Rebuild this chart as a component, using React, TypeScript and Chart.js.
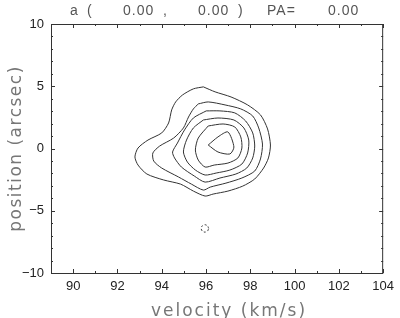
import React, { useEffect, useRef } from "react";
import { Chart, registerables } from "chart.js";

Chart.register(...registerables);

// Axis ranges and tick values
const velMin = 89;
const velMax = 104;
const posMin = -10;
const posMax = 10;
const velTicks = [90, 92, 94, 96, 98, 100, 102, 104];
const posTicks = [-10, -5, 0, 5, 10];

// Title pieces
const titleParts = ["a", "(", "0.00", ",", "0.00", ")", "PA=", "0.00"];
const xTitle = "velocity (km/s)";
const yTitle = "position (arcsec)";

// Contour levels (outer -> inner): velocity (km/s) and position (arcsec)
const c1Vel = [95.88, 96.41, 97.13, 97.88, 98.46, 98.78, 98.91, 98.82, 98.6, 98.2, 97.66, 96.99, 96.32, 95.96, 95.43, 94.85, 94.09, 93.33, 92.93, 92.79, 92.93, 93.38, 94.0, 94.31, 94.45, 94.63, 94.94, 95.43];
const c1Pos = [4.95, 4.55, 4.14, 3.5, 2.7, 1.57, 0.28, -0.76, -1.57, -2.45, -3.02, -3.42, -3.66, -3.82, -3.42, -2.86, -2.53, -2.05, -1.33, -0.68, 0.04, 0.68, 1.25, 2.05, 3.1, 3.74, 4.3, 4.79];

const c2Vel = [95.65, 96.1, 96.86, 97.57, 98.11, 98.38, 98.55, 98.46, 98.2, 97.62, 96.9, 96.19, 95.88, 95.34, 94.76, 94.0, 93.64, 93.6, 93.91, 94.54, 94.98, 95.21, 95.43];
const c2Pos = [3.58, 3.74, 3.5, 3.18, 2.61, 1.65, 0.36, -0.84, -1.81, -2.37, -2.78, -3.1, -3.34, -2.86, -2.29, -1.57, -1.01, -0.36, 0.2, 0.84, 1.65, 2.53, 3.18];

const c3Vel = [96.01, 96.63, 97.3, 97.79, 98.11, 98.2, 98.11, 97.84, 97.35, 96.63, 95.96, 95.47, 94.89, 94.58, 94.49, 94.71, 95.03, 95.43];
const c3Pos = [3.02, 3.02, 2.86, 2.21, 1.25, 0.2, -0.76, -1.57, -2.05, -2.37, -2.7, -2.21, -1.49, -0.76, -0.28, 0.44, 1.49, 2.45];

const c4Vel = [95.88, 96.54, 97.26, 97.71, 97.93, 97.88, 97.62, 97.08, 96.46, 95.96, 95.52, 95.16, 94.98, 95.12, 95.43];
const c4Pos = [2.29, 2.45, 2.29, 1.65, 0.68, -0.36, -1.25, -1.73, -1.97, -2.13, -1.73, -1.09, -0.28, 0.68, 1.65];

const c5Vel = [96.1, 96.77, 97.3, 97.57, 97.62, 97.44, 96.99, 96.37, 95.96, 95.65, 95.52, 95.65];
const c5Pos = [1.81, 1.97, 1.73, 0.93, 0.04, -0.76, -1.17, -1.33, -1.49, -0.93, -0.12, 0.84];

const c6Vel = [96.1, 96.54, 96.99, 97.26, 97.08, 96.54];
const c6Pos = [0.28, 0.93, 1.33, 0.12, -0.44, -0.28];

// Small negative (dashed) contour
const negVel = [96.12, 96.07, 95.95, 95.83, 95.78, 95.83, 95.95, 96.07];
const negPos = [-6.42, -6.21, -6.12, -6.21, -6.42, -6.63, -6.72, -6.63];

const toLoop = (vx: number[], py: number[]) => {
  const pts = vx.map((v, i) => ({ x: v, y: py[i] }));
  pts.push({ x: vx[0], y: py[0] });
  return pts;
};

const framePlugin = {
  id: "frameAndText",
  afterDraw(chart: any) {
    const { ctx, chartArea: a, scales } = chart;
    const xs = scales.x;
    const ys = scales.y;
    ctx.save();
    ctx.strokeStyle = "#333";
    ctx.lineWidth = 1;
    ctx.strokeRect(a.left + 0.5, a.top + 0.5, a.right - a.left - 1, a.bottom - a.top);
    ctx.beginPath();
    for (let v = velMin; v <= velMax; v++) {
      const px = Math.round(xs.getPixelForValue(v)) + 0.5;
      const len = v % 2 === 0 ? 4 : 2;
      ctx.moveTo(px, a.bottom);
      ctx.lineTo(px, a.bottom - len);
      ctx.moveTo(px, a.top);
      ctx.lineTo(px, a.top + len);
    }
    for (let v = posMin; v <= posMax; v++) {
      const py = Math.round(ys.getPixelForValue(v)) + 0.5;
      const len = v % 5 === 0 ? 4 : 2;
      ctx.moveTo(a.left, py);
      ctx.lineTo(a.left + len, py);
      ctx.moveTo(a.right, py);
      ctx.lineTo(a.right - len, py);
    }
    ctx.stroke();

    // Title
    ctx.fillStyle = "#555";
    ctx.font = "14px 'Liberation Sans', Arial, sans-serif";
    (ctx as any).letterSpacing = "1px";
    ctx.textAlign = "left";
    ctx.textBaseline = "alphabetic";
    const titleX = [70, 87, 123, 163, 198, 238, 267, 328];
    titleParts.forEach((t, i) => ctx.fillText(t, titleX[i], 15));

    // Axis titles
    ctx.fillStyle = "#777";
    ctx.font = "17px 'DejaVu Sans', sans-serif";
    (ctx as any).letterSpacing = "2px";
    ctx.textAlign = "center";
    ctx.fillText(xTitle, 229, 316);
    (ctx as any).letterSpacing = "1.5px";
    ctx.translate(21, (a.top + a.bottom) / 2);
    ctx.rotate(-Math.PI / 2);
    ctx.fillText(yTitle, 0, 0);
    ctx.restore();
  },
};

export default function App() {
  const ref = useRef<HTMLCanvasElement | null>(null);
  useEffect(() => {
    if (!ref.current) return;
    const line = (data: any[], dash: number[] = []) => ({
      data,
      showLine: true,
      borderColor: "#333",
      borderWidth: 1,
      pointRadius: 0,
      tension: 0.25,
      borderDash: dash,
      fill: false,
    });
    const tickFont = { family: "'Liberation Sans', Arial, sans-serif", size: 13 };
    const chart = new Chart(ref.current, {
      type: "scatter",
      data: {
        datasets: [
          line(toLoop(c1Vel, c1Pos)),
          line(toLoop(c2Vel, c2Pos)),
          line(toLoop(c3Vel, c3Pos)),
          line(toLoop(c4Vel, c4Pos)),
          line(toLoop(c5Vel, c5Pos)),
          line(toLoop(c6Vel, c6Pos)),
          line(toLoop(negVel, negPos), [2, 2]),
        ],
      },
      options: {
        animation: false,
        responsive: false,
        maintainAspectRatio: false,
        layout: { padding: { left: 0, right: 13, top: 24, bottom: 0 } },
        plugins: { legend: { display: false }, tooltip: { enabled: false }, title: { display: false } },
        scales: {
          x: {
            type: "linear",
            min: velMin,
            max: velMax,
            grid: { display: false, drawTicks: false },
            border: { display: false },
            ticks: {
              padding: 6,
              color: "#222",
              font: tickFont,
              maxRotation: 0,
              autoSkip: false,
            },
            afterBuildTicks: (s: any) => {
              s.ticks = velTicks.map((v) => ({ value: v }));
            },
            afterFit: (s: any) => {
              s.height = 45;
            },
          },
          y: {
            type: "linear",
            min: posMin,
            max: posMax,
            grid: { display: false, drawTicks: false },
            border: { display: false },
            ticks: {
              padding: 7,
              color: "#222",
              font: tickFont,
              autoSkip: false,
              callback: (v: any) => (Number(v) < 0 ? "\u2212" + Math.abs(Number(v)) : String(v)),
            },
            afterBuildTicks: (s: any) => {
              s.ticks = posTicks.map((v) => ({ value: v }));
            },
            afterFit: (s: any) => {
              s.width = 51;
            },
          },
        },
      },
      plugins: [framePlugin],
    });
    return () => chart.destroy();
  }, []);
  return (
    <div style={{ position: "absolute", left: 0, top: 0, width: 400, height: 318, background: "#fff" }}>
      <canvas ref={ref} width={400} height={318} style={{ width: 400, height: 318 }} />
    </div>
  );
}
